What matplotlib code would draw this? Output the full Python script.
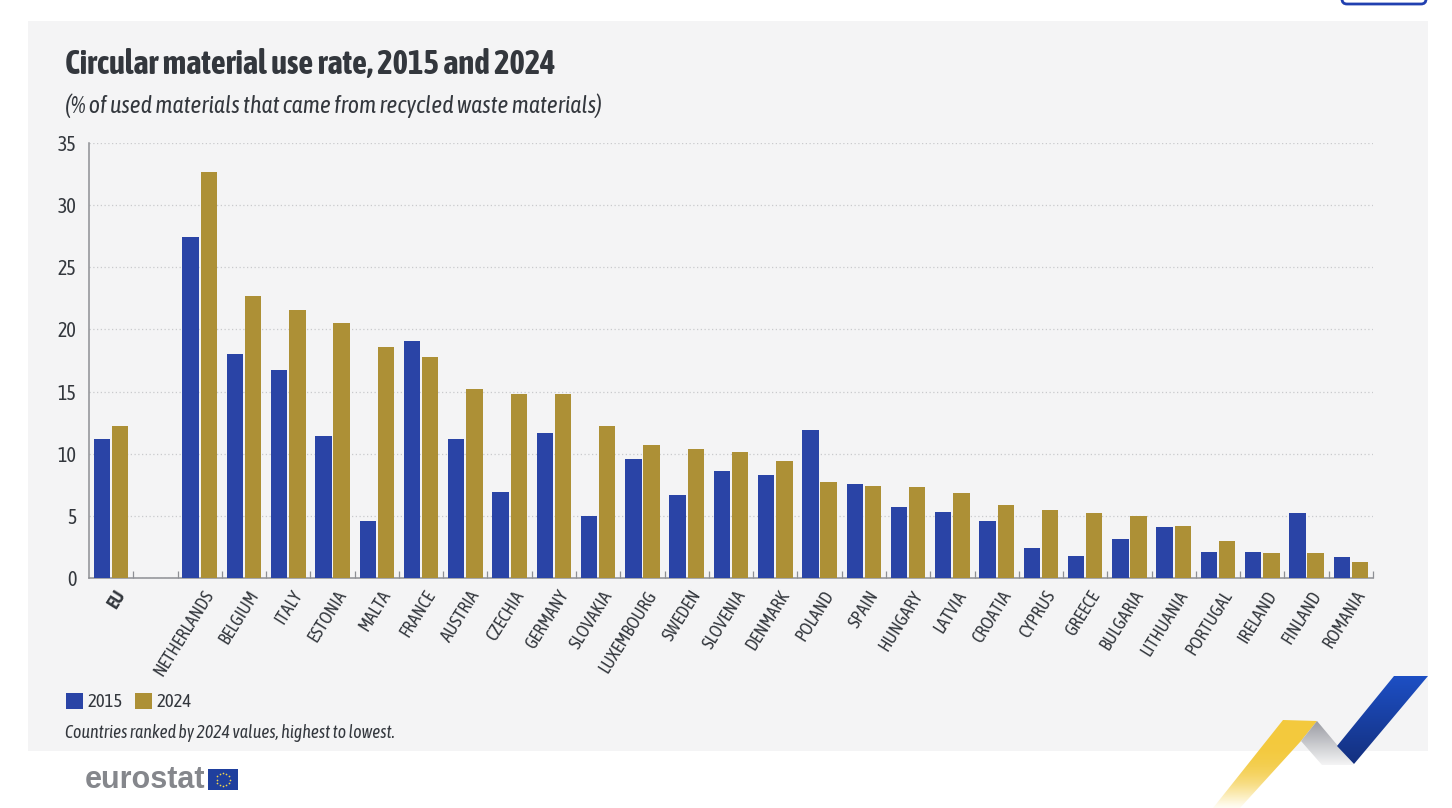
#!/usr/bin/env python3
"""Circular material use rate by country, 2015 and 2024."""

import numpy as np
import matplotlib
matplotlib.use("Agg")
import matplotlib.pyplot as plt
from matplotlib.patches import Polygon, Rectangle, FancyBboxPatch

plt.rcParams['font.family'] = ['Asap Condensed', 'Open Sans', 'DejaVu Sans']

countries = ['EU', '', 'NETHERLANDS', 'BELGIUM', 'ITALY', 'ESTONIA', 'MALTA', 'FRANCE',
             'AUSTRIA', 'CZECHIA', 'GERMANY', 'SLOVAKIA', 'LUXEMBOURG', 'SWEDEN',
             'SLOVENIA', 'DENMARK', 'POLAND', 'SPAIN', 'HUNGARY', 'LATVIA', 'CROATIA',
             'CYPRUS', 'GREECE', 'BULGARIA', 'LITHUANIA', 'PORTUGAL', 'IRELAND',
             'FINLAND', 'ROMANIA']
values_2015 = [11.2, np.nan, 27.4, 18.0, 16.7, 11.4, 4.6, 19.1, 11.2, 6.9, 11.7, 5.0, 9.6, 6.7,
               8.6, 8.3, 11.9, 7.6, 5.7, 5.3, 4.6, 2.4, 1.8, 3.1, 4.1, 2.1, 2.1, 5.2, 1.7]
values_2024 = [12.2, np.nan, 32.7, 22.7, 21.6, 20.5, 18.6, 17.8, 15.2, 14.8, 14.8, 12.2, 10.7, 10.4,
               10.1, 9.4, 7.7, 7.4, 7.3, 6.8, 5.9, 5.5, 5.2, 5.0, 4.2, 3.0, 2.0, 2.0, 1.3]
y_ticks = [0, 5, 10, 15, 20, 25, 30, 35]

BLUE = '#2a44a6'
GOLD = '#ad9036'
TEXT = '#33373d'
W, H = 1452, 808

fig = plt.figure(figsize=(W / 100, H / 100), dpi=100, facecolor='white')

# Overlay in pixel coordinates for the panel, headings and branding
bg = fig.add_axes([0, 0, 1, 1], zorder=0)
bg.set_xlim(0, W)
bg.set_ylim(H, 0)
bg.axis('off')
bg.add_patch(Rectangle((28, 21), 1400, 730, fc='#f4f4f5', ec='none'))
bg.add_patch(FancyBboxPatch((1342, -12), 84, 16, boxstyle='round,pad=0,rounding_size=5',
                            fc='white', ec='#2140b0', lw=2))


def gradient_poly(points, start, end, power=1.0):
    """Fill a polygon with a vertical colour ramp, clipped to its outline."""
    xs, ys = zip(*points)
    ramp = np.linspace(0, 1, 128)[:, None] ** power
    c0, c1 = np.array(matplotlib.colors.to_rgba(start)), np.array(matplotlib.colors.to_rgba(end))
    img = c0 + (c1 - c0) * ramp[..., None]
    im = bg.imshow(img, extent=(min(xs), max(xs), max(ys), min(ys)), aspect='auto',
                   interpolation='bilinear', zorder=3)
    poly = Polygon(points, closed=True, fc='none', ec='none', transform=bg.transData)
    bg.add_patch(poly)
    im.set_clip_path(poly)


gradient_poly([(1283, 720), (1317, 721), (1301, 741), (1240, 808), (1213, 808)],
              '#f3c93c', (1.0, 0.97, 0.85, 0.3), power=4)
gradient_poly([(1317, 721), (1354, 765), (1322, 765), (1301, 741)], '#9a9ca3', '#f4f4f5')
gradient_poly([(1394, 676), (1428, 676), (1354, 764), (1337, 746)], '#1d4fc4', '#14307f')
bg.set_xlim(0, W)
bg.set_ylim(H, 0)

bg.text(65, 65, 'Circular material use rate, 2015 and 2024', fontsize=23.5, fontweight='bold',
        color=TEXT, va='center', ha='left')
bg.text(65, 106, '(% of used materials that came from recycled waste materials)', fontsize=17.2,
        style='italic', color=TEXT, va='center', ha='left')
bg.text(65, 733, 'Countries ranked by 2024 values, highest to lowest.', fontsize=12.8,
        style='italic', color=TEXT, va='center', ha='left')

# Legend
bg.add_patch(Rectangle((66, 693), 17, 16, fc=BLUE, ec='none'))
bg.text(87, 702, '2015', fontsize=13.5, color=TEXT, va='center', ha='left')
bg.add_patch(Rectangle((135, 693), 17, 16, fc=GOLD, ec='none'))
bg.text(156, 702, '2024', fontsize=13.5, color=TEXT, va='center', ha='left')

# eurostat logo
bg.text(85, 780, 'eurostat', fontsize=22, fontweight='bold', color='#85878c', va='center',
        ha='left', family=['Liberation Sans', 'DejaVu Sans'])
bg.add_patch(Rectangle((208, 769), 30, 21, fc='#1f3f9e', ec='none'))
angles = np.linspace(0, 2 * np.pi, 12, endpoint=False)
bg.scatter(223 + 6.5 * np.cos(angles), 779.5 + 6.5 * np.sin(angles), s=1.5, c='#f2d64b', lw=0)

# Main chart
ax = fig.add_axes([89 / W, 1 - 578 / H, (1373 - 89) / W, (578 - 143) / H], zorder=1)
ax.patch.set_alpha(0)
x = np.arange(len(countries))
ax.bar(x - 0.205, values_2015, width=0.37, color=BLUE, zorder=3)
ax.bar(x + 0.205, values_2024, width=0.37, color=GOLD, zorder=3)

ax.set_xlim(-0.5, len(countries) - 0.5)
ax.set_ylim(0, 35)
ax.set_yticks(y_ticks)
ax.tick_params(axis='y', length=0, pad=9, labelsize=14.5, labelcolor=TEXT)
ax.yaxis.grid(True, linestyle=(0, (1, 2)), color='#c9cacd', linewidth=0.9, zorder=0)
ax.set_axisbelow(True)

# Category separators point up from the axis line
ax.set_xticks(x + 0.5)
ax.set_xticklabels([])
ax.tick_params(axis='x', direction='in', length=5, width=0.9, color='#8d8f94')
for pos, name in zip(x, countries):
    ax.annotate(name, (pos + 0.24, 0), xytext=(0, -10), textcoords='offset points',
                xycoords=('data', 'axes fraction'), rotation=58, rotation_mode='anchor',
                ha='right', va='center', fontsize=13, color=TEXT,
                fontweight='bold' if name == 'EU' else 'normal')

for side in ('top', 'right'):
    ax.spines[side].set_visible(False)
for side in ('left', 'bottom'):
    ax.spines[side].set_color('#8d8f94')
    ax.spines[side].set_linewidth(1.1)

fig.savefig('out.png', dpi=100)
